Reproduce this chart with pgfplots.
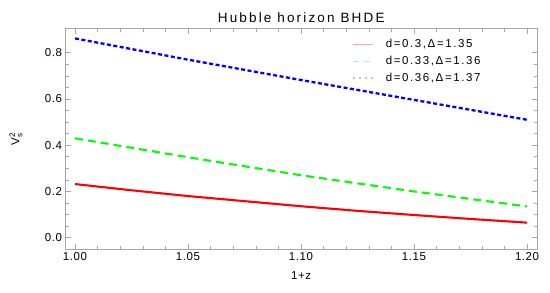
\documentclass[border=0pt]{standalone}
\usepackage{amsmath}
\usepackage{pgfplots}
\pgfplotsset{compat=1.18}
\usepackage{fontspec}
\setmainfont{Liberation Sans}
\newfontfamily\titlefont[LetterSpace=16]{Liberation Sans}
\newfontfamily\legfont[LetterSpace=14]{Liberation Sans}
\newfontfamily\tickfont[LetterSpace=5]{Liberation Sans}
\begin{document}
\begin{tikzpicture}
\begin{axis}[
  scale only axis,
  width=471.5pt, height=220.3pt,
  xmin=0.9958, xmax=1.2044,
  ymin=-0.049, ymax=0.904,
  xtick={1.00,1.05,1.10,1.15,1.20},
  xticklabels={1.00,1.05,1.10,1.15,1.20},
  ytick={0,0.2,0.4,0.6,0.8},
  yticklabels={0.0,0.2,0.4,0.6,0.8},
  minor x tick num=4,
  minor y tick num=3,
  tick align=inside,
  major tick length=5pt,
  minor tick length=3pt,
  axis line style={gray!70, line width=0.8pt},
  every tick/.style={gray!70, line width=0.6pt},
  tick label style={font=\tickfont\fontsize{11.5}{13}\selectfont},
  title={Hubble horizon BHDE},
  title style={font=\titlefont\fontsize{13.5}{15}\selectfont, yshift=-3pt},
  xlabel={1+z},
  ylabel={V$_{\text{s}}^{\text{2}}$},
  label style={font=\tickfont\fontsize{11.5}{13}\selectfont},
  xlabel style={yshift=-4pt},
  ylabel style={at={(axis description cs:0,0.5)}, anchor=center, yshift=49.5pt},
  legend style={draw=none, fill=none, at={(0.6076,0.953)}, anchor=north west,
    font=\legfont\fontsize{11.5}{13}\selectfont, row sep=5.7pt, column sep=0pt, inner sep=0pt,
    nodes={inner sep=0pt, text height=8.5pt, text depth=2.5pt}},
  legend cell align=left,
  /tikz/every odd column/.append style={column sep=12pt},
  legend image code/.code={\draw[#1] (0pt,0pt) -- (20pt,0pt);},
  clip=true,
]
\addlegendimage{red!35, line width=1.2pt}
\addlegendentry{d=0.3,Δ=1.35}
\addlegendimage{green!35, line width=1.4pt, dash pattern=on 6pt off 5pt}
\addlegendentry{d=0.33,Δ=1.36}
\addlegendimage{blue!25, line width=1.6pt, dash pattern=on 2.5pt off 3.5pt}
\addlegendentry{d=0.36,Δ=1.37}
\addplot[forget plot, red, line width=2.1pt] coordinates {
(1.00,0.232) (1.025,0.205) (1.05,0.180) (1.075,0.158) (1.10,0.136) (1.125,0.116) (1.15,0.098) (1.175,0.081) (1.20,0.065)};
\addplot[forget plot, green, line width=2.1pt, dash pattern=on 8pt off 5pt] coordinates {
(1.00,0.430) (1.05,0.348) (1.10,0.270) (1.15,0.200) (1.20,0.135)};
\addplot[forget plot, blue, line width=2.3pt, dash pattern=on 4pt off 2.5pt] coordinates {
(1.00,0.862) (1.05,0.770) (1.10,0.682) (1.15,0.596) (1.20,0.510)};
\end{axis}
\useasboundingbox ([shift={(-65.5pt,-43pt)}]current axis.south west) rectangle ([shift={(13pt,28.7pt)}]current axis.north east);
\end{tikzpicture}
\end{document}
